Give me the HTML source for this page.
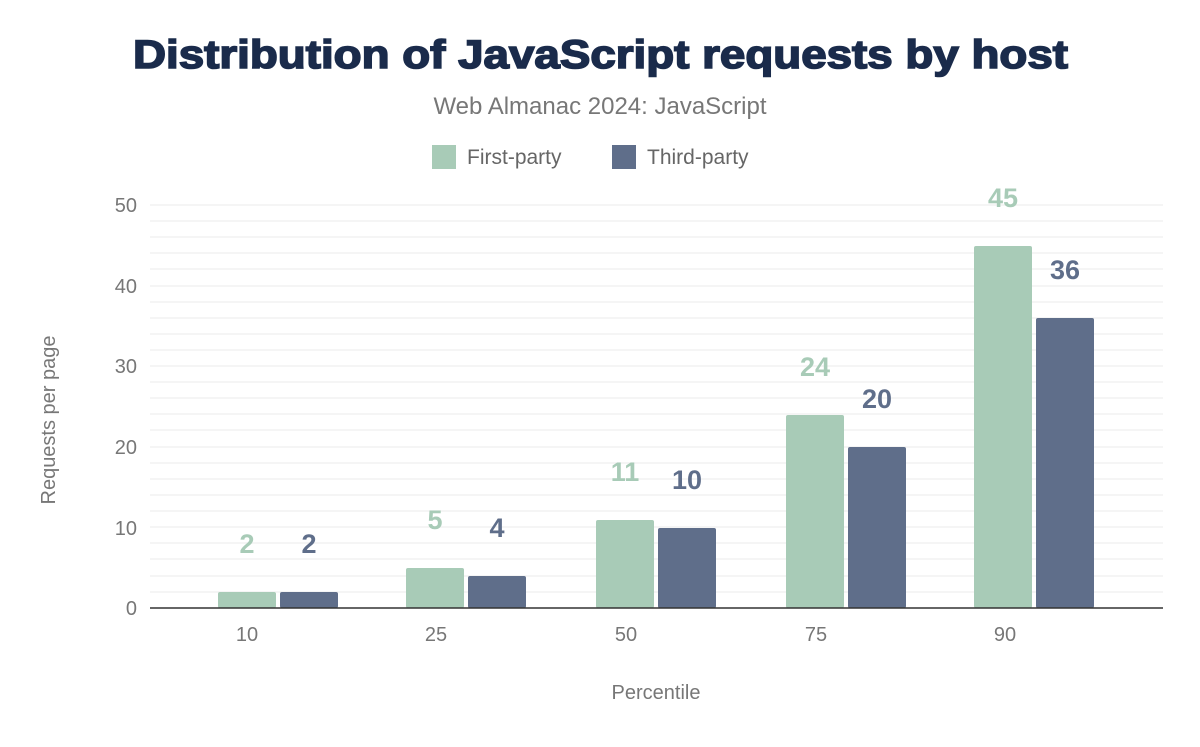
<!DOCTYPE html>
<html><head><meta charset="utf-8"><style>
body{margin:0;background:#fff;}
svg text{font-family:"Liberation Sans",Arial,sans-serif;}
</style></head><body>
<svg width="1200" height="742" viewBox="0 0 1200 742" xmlns="http://www.w3.org/2000/svg">
<text x="133" y="68" textLength="935" lengthAdjust="spacingAndGlyphs" font-size="40" font-weight="bold" fill="#1a2b4b" stroke="#1a2b4b" stroke-width="1.6">Distribution of JavaScript requests by host</text>
<text x="600" y="114" text-anchor="middle" font-size="24" fill="#777">Web Almanac 2024: JavaScript</text>
<rect x="432" y="145" width="24" height="24" fill="#a8cbb7"/>
<text x="467" y="164" font-size="21" fill="#666">First-party</text>
<rect x="612" y="145" width="24" height="24" fill="#5f6e8a"/>
<text x="647" y="164" font-size="21" fill="#666">Third-party</text>
<g stroke="#f2f2f2" stroke-width="1.5">
<line x1="150" x2="1163" y1="205" y2="205"/><line x1="150" x2="1163" y1="221" y2="221"/><line x1="150" x2="1163" y1="237" y2="237"/><line x1="150" x2="1163" y1="253" y2="253"/><line x1="150" x2="1163" y1="269" y2="269"/>
<line x1="150" x2="1163" y1="286" y2="286"/><line x1="150" x2="1163" y1="302" y2="302"/><line x1="150" x2="1163" y1="318" y2="318"/><line x1="150" x2="1163" y1="334" y2="334"/><line x1="150" x2="1163" y1="350" y2="350"/>
<line x1="150" x2="1163" y1="366" y2="366"/><line x1="150" x2="1163" y1="382" y2="382"/><line x1="150" x2="1163" y1="398" y2="398"/><line x1="150" x2="1163" y1="414" y2="414"/><line x1="150" x2="1163" y1="430" y2="430"/>
<line x1="150" x2="1163" y1="447" y2="447"/><line x1="150" x2="1163" y1="463" y2="463"/><line x1="150" x2="1163" y1="479" y2="479"/><line x1="150" x2="1163" y1="495" y2="495"/><line x1="150" x2="1163" y1="511" y2="511"/>
<line x1="150" x2="1163" y1="527" y2="527"/><line x1="150" x2="1163" y1="543" y2="543"/><line x1="150" x2="1163" y1="559" y2="559"/><line x1="150" x2="1163" y1="576" y2="576"/><line x1="150" x2="1163" y1="592" y2="592"/>
</g>
<g font-size="20" fill="#777" text-anchor="end">
<text x="137" y="212">50</text><text x="137" y="293">40</text><text x="137" y="373">30</text><text x="137" y="454">20</text><text x="137" y="535">10</text><text x="137" y="615">0</text>
</g>
<text transform="translate(55,420) rotate(-90)" text-anchor="middle" font-size="20" fill="#777">Requests per page</text>
<g fill="#a8cbb7">
<rect x="218" y="592" width="58" height="16" rx="2"/><rect x="406" y="568" width="58" height="40" rx="2"/><rect x="596" y="520" width="58" height="88" rx="2"/><rect x="786" y="415" width="58" height="193" rx="2"/><rect x="974" y="246" width="58" height="362" rx="2"/>
</g>
<g fill="#5f6e8a">
<rect x="280" y="592" width="58" height="16" rx="2"/><rect x="468" y="576" width="58" height="32" rx="2"/><rect x="658" y="528" width="58" height="80" rx="2"/><rect x="848" y="447" width="58" height="161" rx="2"/><rect x="1036" y="318" width="58" height="290" rx="2"/>
</g>
<line x1="150" x2="1163" y1="608" y2="608" stroke="#333" stroke-width="1.5"/>
<g font-size="27" font-weight="bold" text-anchor="middle" fill="#a8cbb7">
<text x="247" y="553">2</text><text x="435" y="529">5</text><text x="625" y="481">11</text><text x="815" y="376">24</text><text x="1003" y="207">45</text>
</g>
<g font-size="27" font-weight="bold" text-anchor="middle" fill="#5f6e8a">
<text x="309" y="553">2</text><text x="497" y="537">4</text><text x="687" y="489">10</text><text x="877" y="408">20</text><text x="1065" y="279">36</text>
</g>
<g font-size="20" fill="#777" text-anchor="middle">
<text x="247" y="641">10</text><text x="436" y="641">25</text><text x="626" y="641">50</text><text x="816" y="641">75</text><text x="1005" y="641">90</text>
</g>
<text x="656" y="699" text-anchor="middle" font-size="20" fill="#777">Percentile</text>
</svg>
</body></html>
